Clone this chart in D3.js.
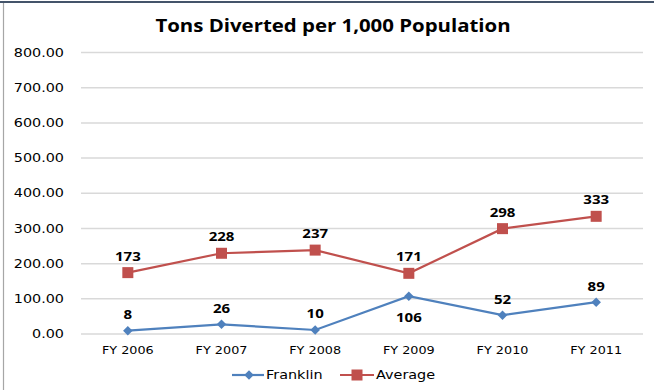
<!DOCTYPE html>
<html><head><meta charset="utf-8">
<script src="https://cdn.jsdelivr.net/npm/d3@7"></script>
<style>body{margin:0;background:#fff}svg{display:block}</style>
</head><body><svg id="c" width="654" height="390"></svg>
<script>
const categories = ["FY 2006","FY 2007","FY 2008","FY 2009","FY 2010","FY 2011"];
const franklin = [8, 26, 10, 106, 52, 89];
const average = [173, 228, 237, 171, 298, 333];
const yTicks = [0,100,200,300,400,500,600,700,800];
const title = "Tons Diverted per 1,000 Population";

const svg = d3.select("#c");
const W = 654, H = 390;
const m = {l:81, r:11};
const x = d3.scaleBand().domain(categories).range([m.l, W - m.r]);
const y = d3.scaleLinear().domain([0, 800]).range([333.5, 52]);
const sans = "'DejaVu Sans', Verdana, sans-serif";
const bold = "'Open Sans', sans-serif";

// frame
svg.append("line").attr("x1",0).attr("x2",W).attr("y1",2).attr("y2",2).attr("stroke","#44546a").attr("stroke-width",2);
svg.append("line").attr("x1",3.5).attr("x2",3.5).attr("y1",3).attr("y2",H).attr("stroke","#a6a6a6").attr("stroke-width",1.2);

svg.append("text").attr("transform","translate(333,32) scale(1.2,1)").attr("text-anchor","middle")
  .attr("font-family",bold).attr("font-weight","bold").attr("font-size",17).attr("fill","#000").text(title);

// grid + y axis
const yAxis = d3.axisLeft(y).tickValues(yTicks).tickSize(-(W - m.r - m.l)).tickFormat(d3.format(".2f"));
const gy = svg.append("g").attr("transform",`translate(${m.l},0)`).call(yAxis);
gy.select(".domain").remove();
gy.selectAll(".tick line").attr("stroke","#d9d9d9").attr("stroke-width",1.5);
gy.selectAll(".tick text").attr("x",0).attr("transform","translate(-17,0.5) scale(1.25,1)")
  .attr("font-family",sans).attr("font-size",11.5).attr("fill","#000");

const xAxis = d3.axisBottom(x).tickSize(0).tickPadding(13);
const gx = svg.append("g").attr("transform",`translate(0,${y(0)})`).call(xAxis);
gx.select(".domain").remove();
gx.selectAll(".tick text").attr("transform","scale(1.22,1)").attr("font-family",sans).attr("font-size",10.5).attr("fill","#000");

const cx = d => x(d) + x.bandwidth()/2;
const line = d3.line().x((d,i)=>cx(categories[i])).y(d=>y(d));
const blue = "#4f81bd", red = "#c0504d";

svg.append("path").datum(average).attr("d",line).attr("fill","none").attr("stroke",red).attr("stroke-width",2.2);
svg.append("path").datum(franklin).attr("d",line).attr("fill","none").attr("stroke",blue).attr("stroke-width",2.2);

svg.selectAll(".sq").data(average).enter().append("rect")
  .attr("x",(d,i)=>cx(categories[i])-5.5).attr("y",d=>y(d)-5.5).attr("width",11).attr("height",11).attr("fill",red);
const diamond = d3.symbol().type(d3.symbolDiamond2).size(58);
svg.selectAll(".dm").data(franklin).enter().append("path")
  .attr("d",diamond).attr("transform",(d,i)=>`translate(${cx(categories[i])},${y(d)})`).attr("fill",blue);

svg.selectAll(".la").data(average).enter().append("text")
  .attr("transform",(d,i)=>`translate(${cx(categories[i])},${y(d)-12}) scale(1.25,1)`).attr("text-anchor","middle")
  .attr("font-family",bold).attr("font-weight","bold").attr("font-size",12).text(d=>d);
svg.selectAll(".lf").data(franklin).enter().append("text")
  .attr("transform",(d,i)=>`translate(${cx(categories[i])},${i===3 ? y(d)+26 : y(d)-11.5}) scale(1.25,1)`).attr("text-anchor","middle")
  .attr("font-family",bold).attr("font-weight","bold").attr("font-size",12).text(d=>d);

// legend
const lg = svg.append("g").attr("font-family",sans).attr("font-size",12);
lg.append("line").attr("x1",232).attr("x2",264).attr("y1",375).attr("y2",375).attr("stroke",blue).attr("stroke-width",2.2);
lg.append("path").attr("d",diamond).attr("transform","translate(249,375)").attr("fill",blue);
lg.append("text").attr("transform","translate(266,379) scale(1.2,1)").text("Franklin");
lg.append("line").attr("x1",340).attr("x2",374).attr("y1",375).attr("y2",375).attr("stroke",red).attr("stroke-width",2.2);
lg.append("rect").attr("x",351.5).attr("y",369.5).attr("width",11).attr("height",11).attr("fill",red);
lg.append("text").attr("transform","translate(376,379) scale(1.2,1)").text("Average");
</script></body></html>
